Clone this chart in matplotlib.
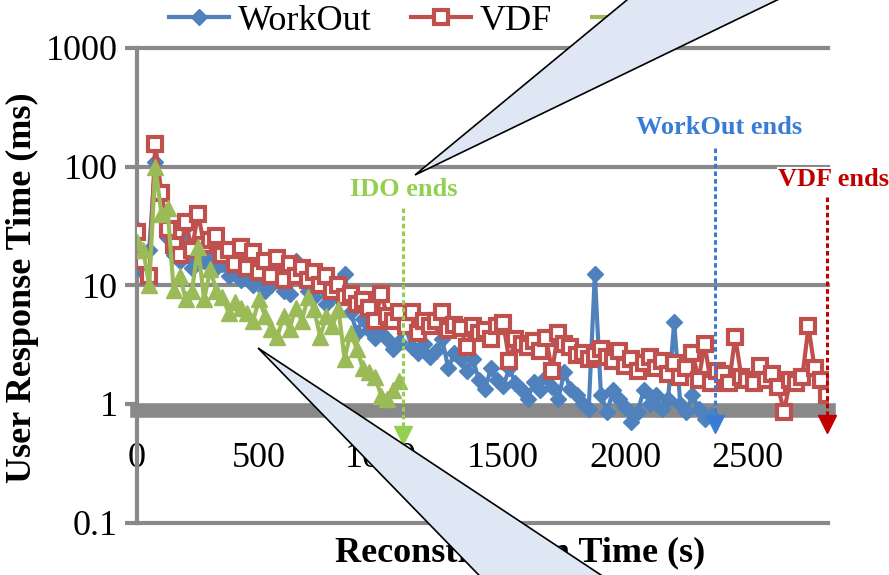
# user response time during reconstruction (WorkOut / VDF / IDO)
import numpy as np
import matplotlib
matplotlib.use('Agg')
import matplotlib.pyplot as plt
from matplotlib.patches import Polygon
from matplotlib.ticker import NullLocator

plt.rcParams['font.family'] = ['Liberation Serif', 'DejaVu Serif']

# sampling interval of the traces (s)
step = 25

workout = [30, 13, 20, 110, 58, 25, 18, 16, 31, 14,
           20, 16, 18, 14, 15, 12, 13, 11, 12, 10,
           11, 9, 10, 12, 9, 8.5, 16, 11, 9, 8,
           10, 7, 8, 8, 12.5, 6, 4.0, 5.2, 4.2, 3.6,
           4.0, 3.5, 2.9, 3.3, 4.5, 3.0, 2.7, 3.2, 2.5, 2.8,
           3.5, 2.0, 2.7, 2.4, 1.9, 2.4, 1.6, 1.34, 2.0, 1.6,
           1.42, 2.0, 1.5, 1.3, 1.1, 1.53, 1.3, 1.7, 1.4, 1.1,
           1.86, 1.34, 1.2, 1.0, 0.91, 12.4, 1.2, 0.86, 1.3, 1.1,
           0.95, 0.7, 0.86, 1.3, 1.0, 1.2, 0.9, 1.1, 4.9, 1.0,
           0.85, 1.2, 0.9, 0.75, 0.8]

vdf = [28, 16, 12, 155, 60, 30, 22, 18, 34, 20,
       40, 22, 24, 26, 18, 20, 15, 21, 14, 19,
       13, 16, 12, 17, 11, 15, 12, 14, 11, 13,
       10, 12, 9, 10, 8, 8.5, 7, 7.5, 6.5, 5,
       8.5, 5.5, 5, 6, 4.5, 6, 4, 5, 4.5, 5,
       6, 4.2, 4.6, 4.4, 3, 4.5, 4, 4.2, 3.5, 4.5,
       4.8, 2.3, 3.5, 3.2, 3, 3.4, 2.8, 3.6, 1.9, 4,
       3.2, 3, 2.6, 2.7, 2.4, 2.6, 2.9, 2.5, 2.3, 2.8,
       2.1, 2.4, 1.9, 2.2, 2.5, 2.0, 2.3, 1.8, 2.2, 1.7,
       2.0, 2.7, 1.6, 3.2, 1.5, 1.9, 1.8, 1.5, 3.7, 1.7,
       1.6, 1.5, 2.1, 1.6, 1.8, 1.4, 0.86, 1.6, 1.5, 1.7,
       4.5, 2.0, 1.6, 1.2]

ido = [23, 20, 10, 100, 40, 45, 9.2, 12, 7.6, 9,
       21, 7.6, 13.6, 9, 8, 5.9, 7.2, 6.5, 5.8, 5.0,
       7.6, 5.5, 4.3, 3.7, 5.5, 4.3, 6.5, 5.0, 7.9, 6.3,
       3.7, 5.5, 4.5, 6.3, 2.4, 4.0, 2.9, 2.0, 1.86, 1.7,
       1.17, 1.1, 1.3, 1.56]

# when each scheme finishes reconstruction (s)
end_names = ['IDO', 'WorkOut', 'VDF']
end_times = [1088, 2368, 2827]

xticks = [0, 500, 1000, 1500, 2000, 2500]
yticks = [0.1, 1, 10, 100, 1000]
ytick_labels = ['0.1', '1', '10', '100', '1000']

blue = '#4F81BD'
red = '#C0504D'
green = '#9BBB59'
gray = '#898989'
end_colors = {'IDO': '#92D050', 'WorkOut': '#3A7BD5', 'VDF': '#C00000'}

fig = plt.figure(figsize=(8.89, 5.75), dpi=100)
ax = fig.add_axes([0.1541, 0.0910, 0.7773, 0.8256])

wt = np.arange(len(workout)) * step
vt = np.arange(len(vdf)) * step
it = np.arange(len(ido)) * step

l1, = ax.plot(wt, workout, color=blue, lw=3, marker='D', ms=8.5, mfc=blue, mec=blue, zorder=4)
l2, = ax.plot(vt, vdf, color=red, lw=3, marker='s', ms=9.5, mfc='white', mec=red, mew=3, zorder=5)
l3, = ax.plot(it, ido, color=green, lw=3, marker='^', ms=11, mfc=green, mec=green, zorder=6)

ax.set_yscale('log')
ax.set_ylim(0.1, 1000)
ax.set_xlim(0, 2830)
ax.yaxis.set_minor_locator(NullLocator())
ax.set_yticks(yticks)
ax.set_yticklabels(ytick_labels)
ax.set_xticks(xticks)
ax.set_xticklabels([str(x) for x in xticks])

# grid lines (the one at 1 is the thick x axis below)
for y in yticks:
    if y != 1:
        ax.axhline(y, color=gray, lw=3, zorder=1, clip_on=False)

for s in ['top', 'right']:
    ax.spines[s].set_visible(False)
ax.spines['left'].set_color(gray)
ax.spines['left'].set_linewidth(3)
ax.spines['bottom'].set_position(('data', 0.89))
ax.spines['bottom'].set_color(gray)
ax.spines['bottom'].set_linewidth(10.5)
ax.spines['bottom'].set_zorder(3)

ax.tick_params(axis='y', length=8.6, width=3, color=gray, pad=5, labelsize=26, direction='out')
ax.tick_params(axis='x', length=0, pad=23, labelsize=26)

# "... ends" markers
line_top = {'IDO': 45, 'WorkOut': 143, 'VDF': 55}
head_y = {'IDO': 0.55, 'WorkOut': 0.68, 'VDF': 0.68}
for name, t in zip(end_names, end_times):
    c = end_colors[name]
    ax.plot([t, t], [line_top[name], head_y[name]], color=c, lw=2.2,
            ls=(0, (1.5, 1)), zorder=7, clip_on=False)
    ax.plot([t], [head_y[name]], marker='v', ms=13, color=c, zorder=7, clip_on=False)

fig.text(404 / 889, 1 - 190 / 575, 'IDO ends', color=end_colors['IDO'], fontsize=19,
         fontweight='bold', ha='center', va='center')
fig.text(719 / 889, 1 - 127 / 575, 'WorkOut ends', color=end_colors['WorkOut'], fontsize=19,
         fontweight='bold', ha='center', va='center')
fig.text(778 / 889, 1 - 180 / 575, 'VDF ends', color=end_colors['VDF'], fontsize=19,
         fontweight='bold', ha='left', va='center', zorder=8,
         bbox=dict(facecolor='white', edgecolor='none', pad=1))

fig.text(520 / 889, 1 - 553 / 575, 'Reconstruction Time (s)', fontsize=26,
         fontweight='bold', ha='center', va='center')
fig.text(22 / 889, 1 - 288 / 575, 'User Response Time (ms)', fontsize=26,
         fontweight='bold', ha='center', va='center', rotation=90)

fig.legend([l1, l2, l3], ['WorkOut', 'VDF', 'IDO'], loc='center',
           bbox_to_anchor=(447 / 889, 1 - 21 / 575), ncol=3, frameon=False,
           fontsize=26, handlelength=1.66, handletextpad=0.25, columnspacing=1.1,
           borderaxespad=0, borderpad=0)

# the two callout wedges lying over the chart
def px(pts):
    return [(x / 889, 1 - y / 575) for x, y in pts]

callout_fill = '#DEE7F3'
fig.add_artist(Polygon(px([(415, 175), (748, -100), (984, -100)]), closed=True,
                       facecolor=callout_fill, edgecolor='black', lw=1.2,
                       transform=fig.transFigure, zorder=20))
fig.add_artist(Polygon(px([(258, 348), (576, 675), (752, 675)]), closed=True,
                       facecolor=callout_fill, edgecolor='black', lw=1.2,
                       transform=fig.transFigure, zorder=20))

fig.savefig('out.png', dpi=100)
plt.close()
